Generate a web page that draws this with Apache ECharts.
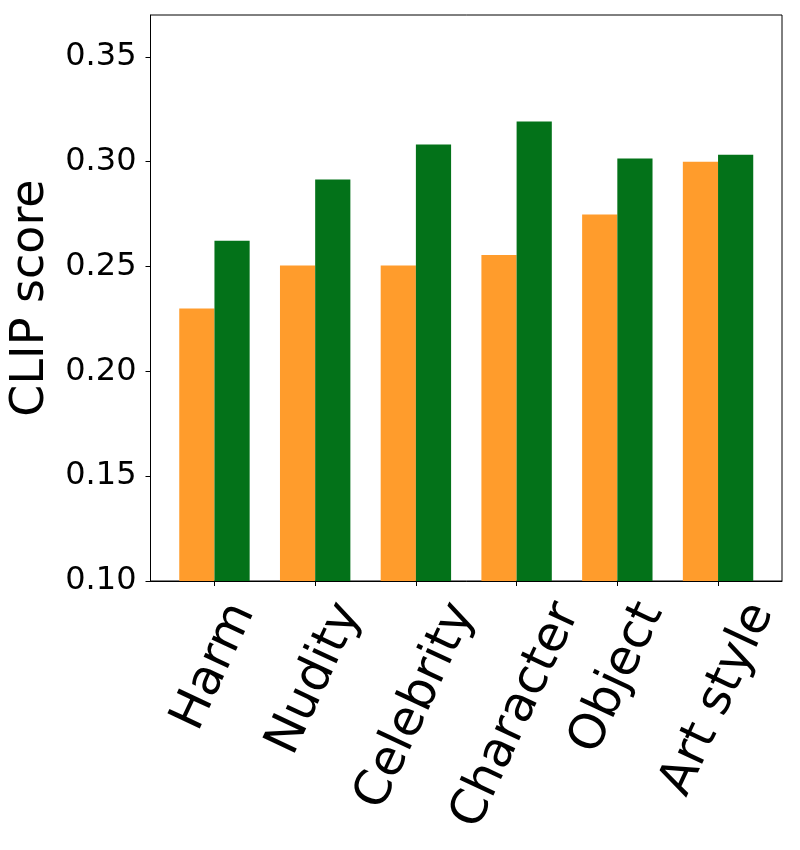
<!DOCTYPE html>
<html><head><meta charset="utf-8">
<script src="https://cdn.jsdelivr.net/npm/echarts@6/dist/echarts.min.js"></script>
<style>html,body{margin:0;padding:0;background:#fff}#c{width:800px;height:850px}</style>
</head><body><div id="c"></div>
<script>
const categories = ['Harm', 'Nudity', 'Celebrity', 'Character', 'Object', 'Art style'];
const orangeValues = [0.2300, 0.2505, 0.2505, 0.2555, 0.2748, 0.3000];
const greenValues = [0.2623, 0.2915, 0.3082, 0.3192, 0.3015, 0.3033];
const yTickValues = [0.10, 0.15, 0.20, 0.25, 0.30, 0.35];
const xPositions = [0, 1, 2, 3, 4, 5];

const FONT = '"DejaVu Sans", sans-serif';
const labelSize = 49;
const rotDeg = 65;
const theta = rotDeg * Math.PI / 180;
const ctx = document.createElement('canvas').getContext('2d');
ctx.font = labelSize + 'px "DejaVu Sans"';
const rich = {};
categories.forEach((c, i) => {
  const w = ctx.measureText(c).width;
  const D = w * Math.sin(theta) / 2;
  rich['l' + i] = {
    fontSize: labelSize, fontFamily: FONT, color: '#000',
    padding: [2 * D * Math.cos(theta), 2 * D * Math.sin(theta), 0, 0]
  };
});

const chart = echarts.init(document.getElementById('c'));
chart.setOption({
  animation: false,
  backgroundColor: '#fff',
  grid: { left: 150.5, right: 18, top: 15, bottom: 269, show: true, borderColor: '#000', borderWidth: 1, outerBoundsMode: 'none', containLabel: false },
  xAxis: {
    type: 'value', min: -0.635, max: 5.635,
    axisLine: { show: true, onZero: false, lineStyle: { color: '#000', width: 1 } },
    axisTick: { show: true, customValues: xPositions, length: 5, lineStyle: { color: '#000' } },
    axisLabel: {
      customValues: xPositions, rotate: rotDeg, align: 'center', verticalAlign: 'middle', margin: 25,
      formatter: (v) => { const i = Math.round(v); return '{l' + i + '|' + categories[i] + '}'; },
      rich: rich
    },
    splitLine: { show: false }
  },
  yAxis: {
    type: 'value', min: 0.10, max: 0.37, interval: 0.05,
    axisLine: { show: true, onZero: false, lineStyle: { color: '#000', width: 1 } },
    axisTick: { show: true, length: 5, customValues: yTickValues, lineStyle: { color: '#000' } },
    axisLabel: { customValues: yTickValues, formatter: (v) => v.toFixed(2), fontSize: 32, fontFamily: FONT, color: '#000', margin: 14 },
    splitLine: { show: false },
    name: 'CLIP score', nameLocation: 'middle', nameGap: 93,
    nameTextStyle: { fontSize: 46, fontFamily: FONT, color: '#000' }
  },
  series: [
    { type: 'bar', data: xPositions.map((x, i) => [x, orangeValues[i]]), barWidth: 35.2, barGap: '0%', itemStyle: { color: '#FF9C2C' }, clip: true },
    { type: 'bar', data: xPositions.map((x, i) => [x, greenValues[i]]), barWidth: 35.2, barGap: '0%', itemStyle: { color: '#037219' }, clip: true }
  ]
});
</script></body></html>
